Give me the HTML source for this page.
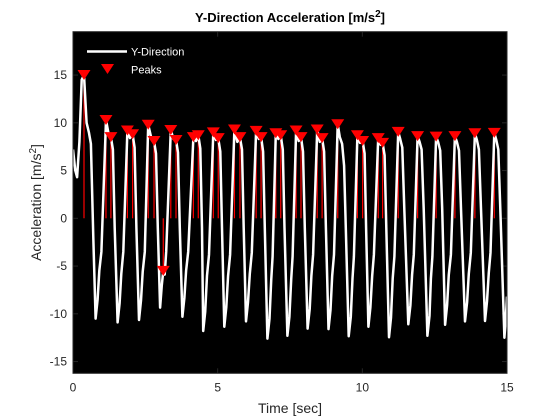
<!DOCTYPE html>
<html><head><meta charset="utf-8">
<style>
html,body{margin:0;padding:0;background:#fff;}
svg{display:block;font-family:"Liberation Sans",Arial,sans-serif;}
</style></head>
<body>
<svg id="chart" width="560" height="420" viewBox="0 0 560 420">
  <rect x="0" y="0" width="560" height="420" fill="#fff"/>
  <rect x="73" y="31.7" width="434" height="341.6" fill="#000"/>
  <g id="ticks"></g>
  <g id="stems"></g>
  <g id="series"></g>
  <g id="markers"></g>
  <rect x="73" y="31.7" width="434" height="341.6" fill="none" stroke="#262626" stroke-width="1"/>
  <text x="290" y="22" text-anchor="middle" font-size="13" font-weight="bold" fill="#000">Y-Direction Acceleration [m/s<tspan dy="-5" font-size="10">2</tspan><tspan dy="5">]</tspan></text>
  <text x="290" y="413" text-anchor="middle" font-size="14" fill="#262626">Time [sec]</text>
  <text transform="translate(41,202.5) rotate(-90)" text-anchor="middle" font-size="14" fill="#262626">Acceleration [m/s<tspan dy="-5" font-size="10">2</tspan><tspan dy="5">]</tspan></text>
  <g>
    <line x1="87" y1="51.5" x2="127" y2="51.5" stroke="#fff" stroke-width="2.5"/>
    <text x="131" y="55.5" font-size="11" fill="#fff">Y-Direction</text>
    <polygon points="101,64 114,64 107.5,74" fill="#f00"/>
    <text x="131" y="73.5" font-size="11" fill="#fff">Peaks</text>
  </g>
</svg>
<script>
const xTicks = [0, 5, 10, 15];
const yTicks = [-15, -10, -5, 0, 5, 10, 15];
const signalT = [0,0.08,0.14,0.22,0.3,0.38,0.47,0.55,0.62,0.7,0.78,
 0.85,0.91,0.98,1.14,1.22,1.31,1.38,1.44,1.54,
 1.61,1.67,1.74,1.88,1.97,2.06,2.13,2.19,2.28,
 2.35,2.41,2.48,2.60,2.70,2.80,2.87,2.93,3.01,
 3.07,3.12,3.17,3.22,3.38,3.47,3.56,3.63,3.69,3.78,
 3.85,3.91,3.98,4.16,4.25,4.33,4.40,4.46,4.50,
 4.57,4.63,4.70,4.85,4.94,5.02,5.09,5.15,5.23,
 5.30,5.36,5.43,5.58,5.68,5.77,5.84,5.90,5.98,
 6.05,6.11,6.18,6.33,6.42,6.50,6.57,6.63,6.72,
 6.79,6.85,6.90,7.01,7.10,7.18,7.25,7.31,7.41,
 7.48,7.54,7.59,7.71,7.80,7.88,7.95,8.01,8.11,
 8.18,8.24,8.30,8.44,8.53,8.61,8.68,8.74,8.83,
 8.90,8.96,9.02,9.15,9.22,9.30,9.37,9.43,9.53,
 9.60,9.66,9.71,9.83,9.92,10.01,10.08,10.13,10.21,
 10.28,10.34,10.40,10.55,10.63,10.70,10.77,10.83,10.92,
 10.99,11.05,11.11,11.24,11.31,11.38,11.45,11.59,
 11.66,11.72,11.78,11.91,11.98,12.05,12.12,12.25,
 12.32,12.37,12.42,12.55,12.62,12.69,12.76,12.86,
 12.93,12.99,13.06,13.20,13.27,13.34,13.41,13.55,
 13.62,13.68,13.75,13.89,13.96,14.03,14.10,14.24,
 14.31,14.37,14.43,14.56,14.63,14.70,14.77,14.91,14.96,15.0];
const signalV = [7.2,5,4.3,8,14.5,15,10,9,7.8,-2,-10.5,
 -8.5,-5.5,-3.5,10.3,9.0,8.5,7.2,-1,-10.9,
 -8.9,-5.8,-3.5,9.2,8.4,8.8,7.4,-1,-10.65,
 -8.6,-5.6,-3.5,9.8,8.5,8.1,6.8,-1,-9.35,
 -7,-5.5,-5.9,-3.5,9.25,8.3,8.2,6.9,-1,-10.3,
 -8.3,-5.5,-3.5,8.5,8.1,8.7,7.3,-1,-11.8,
 -9.8,-6,-3.8,9.0,8.2,8.4,7.0,-1,-11.35,
 -9.3,-6,-3.8,9.3,8.0,8.5,7.2,-1,-10.8,
 -8.8,-5.8,-3.6,9.15,8.3,8.5,7.0,-1,-12.6,
 -10.5,-6.5,-4,8.9,8.3,8.7,7.2,-1,-12.3,
 -10.3,-6.4,-4,9.2,8.1,8.5,7.0,-1,-11.55,
 -9.5,-6,-3.8,9.3,8.0,8.4,7.0,-1,-11.6,
 -9.6,-6,-3.8,9.85,8.5,7.8,5.5,-1,-12.35,
 -10.3,-6.3,-4,8.7,7.9,8.1,6.8,-1,-11.35,
 -9.3,-6,-3.8,8.4,7.7,7.9,6.6,-1,-12.45,
 -10.4,-6.3,-4,9.05,8.3,7.4,1,-11.1,
 -9.1,-5.9,-3.8,8.6,8.0,7.2,1,-12.3,
 -10.2,-6.3,-4,8.55,8.0,7.1,1,-11.15,
 -9.1,-5.9,-3.8,8.6,8.0,7.1,1,-10.8,
 -8.8,-5.8,-3.6,8.9,8.2,7.2,1,-10.75,
 -8.7,-5.7,-3.6,8.95,8.2,7.2,1,-12.5,-10.5,-8.2];
const peakT = [0.38,1.14,1.31,1.88,2.06,2.60,2.80,3.12,3.38,3.56,4.16,4.33,4.85,5.02,5.58,5.77,6.33,6.50,7.01,7.18,7.71,7.88,8.44,8.61,9.15,9.83,10.01,10.55,10.70,11.24,11.91,12.55,13.20,13.89,14.56];
const peakV = [15.0,10.3,8.5,9.2,8.8,9.8,8.1,-5.5,9.25,8.2,8.5,8.7,9.0,8.4,9.3,8.5,9.15,8.5,8.9,8.7,9.2,8.5,9.3,8.4,9.85,8.7,8.1,8.4,7.9,9.05,8.6,8.55,8.6,8.9,8.95];

const NS = "http://www.w3.org/2000/svg";
const X0 = 73, X1 = 507, Y0 = 373.3, Y1 = 31.7;
const xMin = 0, xMax = 15, yMin = -16.23, yMax = 19.54;
function xs(t){ return X0 + (t - xMin) / (xMax - xMin) * (X1 - X0); }
function ys(v){ return Y0 - (v - yMin) / (yMax - yMin) * (Y0 - Y1); }
function mk(tag, attrs){ const e = document.createElementNS(NS, tag); for (const k in attrs) e.setAttribute(k, attrs[k]); return e; }

const tg = document.getElementById('ticks');
xTicks.forEach(t => {
  const x = xs(t);
  const a = mk('line', {x1:x, y1:Y0, x2:x, y2:Y0-5, stroke:'#262626', 'stroke-width':1});
  
  
  tg.appendChild(a);
  const b = mk('line', {x1:x, y1:Y1, x2:x, y2:Y1+5, stroke:'#262626', 'stroke-width':1});
  
  
  tg.appendChild(b);
  const l = mk('text', {x:x, y:Y0+18, 'text-anchor':'middle', 'font-size':12, fill:'#262626'});
  l.textContent = t;
  
  
  tg.appendChild(l);
});
yTicks.forEach(v => {
  const y = ys(v);
  const a = mk('line', {x1:X0, y1:y, x2:X0+5, y2:y, stroke:'#262626', 'stroke-width':1});
  
  
  tg.appendChild(a);
  const b = mk('line', {x1:X1, y1:y, x2:X1-5, y2:y, stroke:'#262626', 'stroke-width':1});
  
  
  tg.appendChild(b);
  const l = mk('text', {x:X0-6, y:y+4, 'text-anchor':'end', 'font-size':12, fill:'#262626'});
  l.textContent = v;
  
  
  tg.appendChild(l);
});

const sg = document.getElementById('stems');
peakT.forEach((t, i) => {
  const s = mk('line', {x1:xs(t), y1:ys(0), x2:xs(t), y2:ys(peakV[i]), stroke:'#f00', 'stroke-width':1.2});
  
  
  sg.appendChild(s);
});

const pts = signalT.map((t, i) => xs(t).toFixed(1) + ',' + ys(signalV[i]).toFixed(1)).join(' ');
const pl = mk('polyline', {points:pts, fill:'none', stroke:'#fff', 'stroke-width':2.5, 'stroke-linejoin':'round'});


document.getElementById('series').appendChild(pl);

const mg = document.getElementById('markers');
peakT.forEach((t, i) => {
  const x = xs(t), y = ys(peakV[i]);
  const p = mk('polygon', {points:(x-6.5)+','+(y-5)+' '+(x+6.5)+','+(y-5)+' '+x+','+(y+5), fill:'#f00'});
  
  
  mg.appendChild(p);
});
</script>
</body></html>
